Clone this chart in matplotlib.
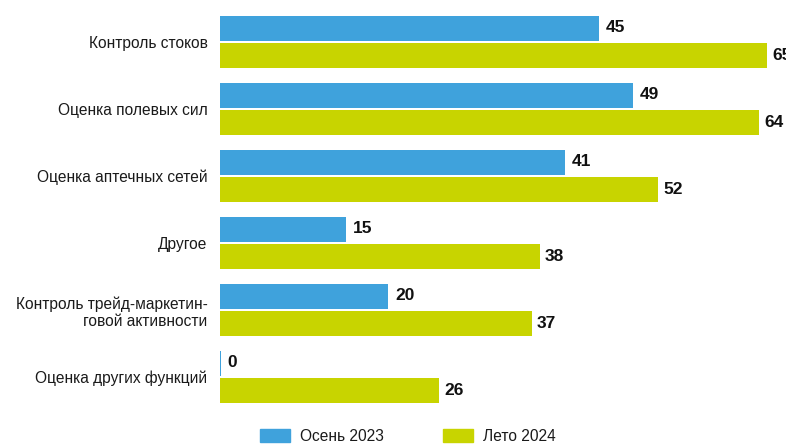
import numpy as np
import matplotlib.pyplot as plt
from matplotlib.patches import Patch

plt.rcParams['font.family'] = ['Liberation Sans', 'DejaVu Sans']

categories = ['Контроль стоков', 'Оценка полевых сил', 'Оценка аптечных сетей',
              'Другое', 'Контроль трейд-маркетин-\nговой активности', 'Оценка других функций']
autumn_2023 = [45, 49, 41, 15, 20, 0]
summer_2024 = [65, 64, 52, 38, 37, 26]

blue = '#3fa2dc'
green = '#c8d400'

fig = plt.figure(figsize=(7.86, 4.47), dpi=100)
ax = fig.add_axes([0.2799, 0.0716, 0.7201, 0.9284])

y = np.arange(len(categories))
h = 0.373
# zero value still drawn as a thin sliver
bar_a = [v if v > 0 else 0.12 for v in autumn_2023]
ax.barh(y - 0.2, bar_a, height=h, color=blue)
ax.barh(y + 0.205, summer_2024, height=h, color=green)

for i in range(len(categories)):
    ax.text(bar_a[i] + 0.8, y[i] - 0.21, str(autumn_2023[i]), va='center', ha='left',
            fontsize=12.5, fontweight='bold', color='#111111', clip_on=False)
    ax.text(summer_2024[i] + 0.6, y[i] + 0.195, str(summer_2024[i]), va='center', ha='left',
            fontsize=12.5, fontweight='bold', color='#111111', clip_on=False)

ax.set_xlim(0, 67.2)
ax.set_ylim(5.567, -0.627)
ax.set_yticks(y)
ax.set_yticklabels(categories, fontsize=11.2, color='#1a1a1a')
ax.tick_params(axis='y', length=0, pad=9)
ax.set_xticks([])
for s in ax.spines.values():
    s.set_visible(False)

handles = [Patch(color=blue, label='Осень 2023'), Patch(color=green, label='Лето 2024')]
fig.legend(handles=handles, loc='lower left', bbox_to_anchor=(252 / 786, -0.010), ncol=2,
           frameon=False, fontsize=11.2, handlelength=1.95, handleheight=0.95,
           handletextpad=0.62, columnspacing=3.8, borderpad=0, labelcolor='#1a1a1a')

fig.savefig('out.png', dpi=100)
